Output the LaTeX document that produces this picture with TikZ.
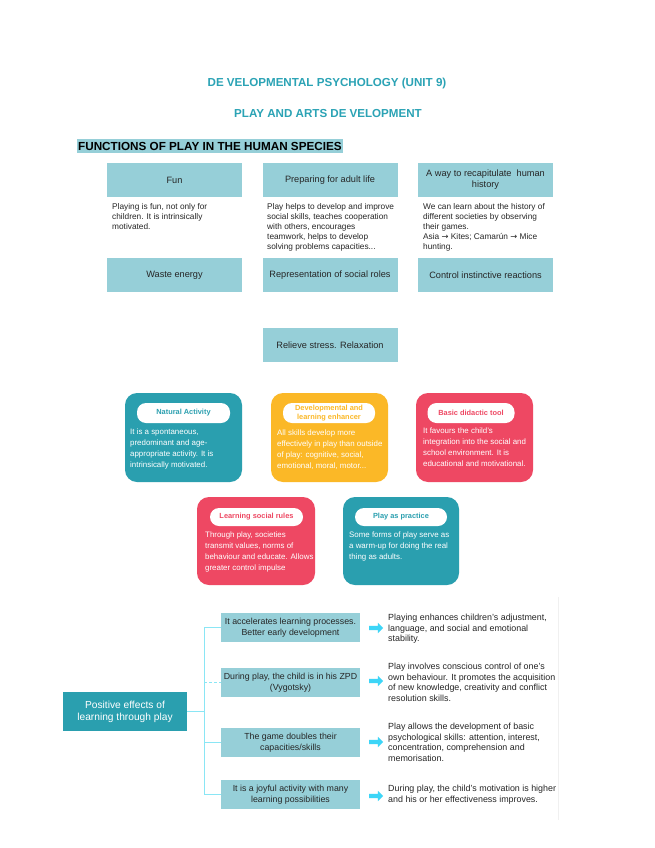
\documentclass[tikz,border=0pt]{standalone}
\usepackage{fontspec}
\setmainfont{Liberation Sans}
\newfontfamily\symfont{DejaVu Sans}
\usetikzlibrary{shapes.arrows}
\definecolor{ttl}{HTML}{2BA3B5}
\definecolor{lbox}{HTML}{96CFD8}
\definecolor{cteal}{HTML}{2A9FAF}
\definecolor{corange}{HTML}{FBB827}
\definecolor{cred}{HTML}{EE4863}
\definecolor{conn}{HTML}{8AE6F5}
\definecolor{arr}{HTML}{3DD5F7}
\definecolor{txt}{HTML}{262626}
\begin{document}
\begin{tikzpicture}[x=1pt,y=-1pt,
  titletext/.style={font=\bfseries\fontsize{11.6}{13}\selectfont, text=ttl, inner sep=0pt},
  topbox/.style={fill=lbox, minimum width=135pt, minimum height=34pt, inner sep=1pt, align=center, font=\fontsize{9.2}{11}\selectfont, text=txt},
  desc/.style={anchor=north west, inner sep=0pt, align=left, font=\fontsize{8.3}{10}\selectfont, text=txt},
  card/.style={rounded corners=12pt},
  pill/.style={fill=white, rounded corners=9pt, inner sep=0pt, align=center, font=\bfseries\fontsize{7.4}{8.6}\selectfont},
  ctext/.style={anchor=north west, inner sep=0pt, align=left, font=\fontsize{7.9}{10.7}\selectfont, text=white},
  effbox/.style={fill=lbox, minimum width=139pt, minimum height=29pt, inner sep=1pt, align=center, font=\fontsize{8.8}{10.5}\selectfont, text=txt},
  rtext/.style={anchor=north west, inner sep=0pt, align=left, font=\fontsize{8.9}{10.5}\selectfont, text=txt},
  link/.style={draw=conn, line width=1.2pt},
  blockarrow/.style={single arrow, fill=arr, minimum height=14pt, single arrow head extend=3pt, inner sep=0pt}
]
\useasboundingbox (0,0) rectangle (655,848);
\fill[white] (0,0) rectangle (655,848);

% titles
\node[titletext] (t1) at (327,84) {DE\kern3pt VELOPMENTAL PSYCHOLOGY (UNIT 9)};
\node[titletext] (t2) at (328,114) {PLAY AND ARTS DE\kern3pt VELOPMENT};
\node[anchor=west, fill=lbox, inner xsep=1pt, inner ysep=0pt, minimum height=14pt, font=\bfseries\fontsize{11.7}{13}\selectfont, text=black] (hd) at (77,146) {FUNCTIONS OF PLAY IN THE HUMAN SPECIES};

% top row
\node[topbox] (fun) at (174.5,180) {Fun};
\node[topbox] (prep) at (330,180) {Preparing for adult life};
\node[topbox] (recap) at (485.5,180) {A way to recapitulate\ \ human\\history};
\node[desc] (dfun) at (112,203) {Playing is fun, not only for\\children. It is intrinsically\\motivated.};
\node[desc] (dprep) at (267,203) {Play helps to develop and improve\\social skills, teaches cooperation\\with others, encourages\\teamwork, helps to develop\\solving problems capacities...};
\node[desc] (drecap) at (423,203) {We can learn about the history of\\different societies by observing\\their games.\\Asia {\symfont →} Kites; Camarún {\symfont →} Mice\\hunting.};

% second row
\node[topbox] (waste) at (174.5,275) {Waste energy};
\node[topbox] (roles) at (330,275) {Representation of social roles};
\node[topbox] (control) at (485.5,275) {Control instinctive reactions};
\node[topbox] (relieve) at (330,345) {Relieve stress. Relaxation};

% cards
\fill[card, cteal] (125,393) rectangle (242,482);
\fill[card, corange] (271,393) rectangle (388,482);
\fill[card, cred] (416,393) rectangle (533,482);
\fill[card, cred] (197,497) rectangle (315,585);
\fill[card, cteal] (343,497) rectangle (459,585);

\node[pill, minimum width=93pt, minimum height=20pt, text=cteal] (p1) at (183.5,413) {Natural Activity};
\node[pill, minimum width=92pt, minimum height=20pt, text=corange] (p2) at (329,413) {Developmental and\\learning enhancer};
\node[pill, minimum width=87pt, minimum height=20pt, text=cred] (p3) at (471,413) {Basic didactic tool};
\node[pill, minimum width=93pt, minimum height=18pt, text=cred] (p4) at (256.5,517) {Learning social rules};
\node[pill, minimum width=92pt, minimum height=18pt, text=cteal] (p5) at (401,517) {Play as practice};

\node[ctext] (c1) at (130,429) {It is a spontaneous,\\predominant and age-\\appropriate activity. It is\\intrinsically motivated.};
\node[ctext] (c2) at (277,430) {All skills develop more\\effectively in play than outside\\of play: cognitive, social,\\emotional, moral, motor...};
\node[ctext] (c3) at (423,428) {It favours the child's\\integration into the social and\\school environment. It is\\educational and motivational.};
\node[ctext] (c4) at (205,532) {Through play, societies\\transmit values, norms of\\behaviour and educate. Allows\\greater control impulse};
\node[ctext] (c5) at (349,532) {Some forms of play serve as\\a warm-up for doing the real\\thing as adults.};

% positive effects
\node[fill=cteal, minimum width=124pt, minimum height=39pt, inner sep=1pt, align=center, text=white, font=\fontsize{10.2}{12}\selectfont] (pos) at (125,711.5) {Positive effects of\\learning through play};

\node[effbox] (e1) at (290.5,627.5) {It accelerates learning processes.\\Better early development};
\node[effbox] (e2) at (290.5,682.5) {During play, the child is in his ZPD\\(Vygotsky)};
\node[effbox] (e3) at (290.5,742.5) {The game doubles their\\capacities/skills};
\node[effbox] (e4) at (290.5,794.5) {It is a joyful activity with many\\learning possibilities};

\coordinate (jm) at (204,711.5);
\coordinate (j1) at (204,627.5);
\coordinate (j2) at (204,682.5);
\coordinate (j3) at (204,742.5);
\coordinate (j4) at (204,794.5);
\draw[link] (pos.east) -- (jm);
\draw[draw=conn, line width=0.8pt] (j1) -- (j4);
\draw[link] (j1) -- (e1.west);
\draw[draw=conn, line width=0.8pt, densely dashed] (j2) -- (e2.west);
\draw[link] (j3) -- (e3.west);
\draw[link] (j4) -- (e4.west);

\node[blockarrow] (a1) at (375,628) {\rule{0pt}{4pt}};
\node[blockarrow] (a2) at (375,681) {\rule{0pt}{4pt}};
\node[blockarrow] (a3) at (375,742) {\rule{0pt}{4pt}};
\node[blockarrow] (a4) at (375,796) {\rule{0pt}{4pt}};

\node[rtext] (r1) at (388,614) {Playing enhances children's adjustment,\\language, and social and emotional\\stability.};
\node[rtext] (r2) at (388,663) {Play involves conscious control of one's\\own behaviour. It promotes the acquisition\\of new knowledge, creativity and conflict\\resolution skills.};
\node[rtext] (r3) at (388,723) {Play allows the development of basic\\psychological skills: attention, interest,\\concentration, comprehension and\\memorisation.};
\node[rtext] (r4) at (388,785) {During play, the child's motivation is higher\\and his or her effectiveness improves.};

\coordinate (edgeA) at (558,597);
\coordinate (edgeB) at (558,820);
\draw[black!6, line width=0.6pt] (edgeA) -- (edgeB);
\end{tikzpicture}
\end{document}
